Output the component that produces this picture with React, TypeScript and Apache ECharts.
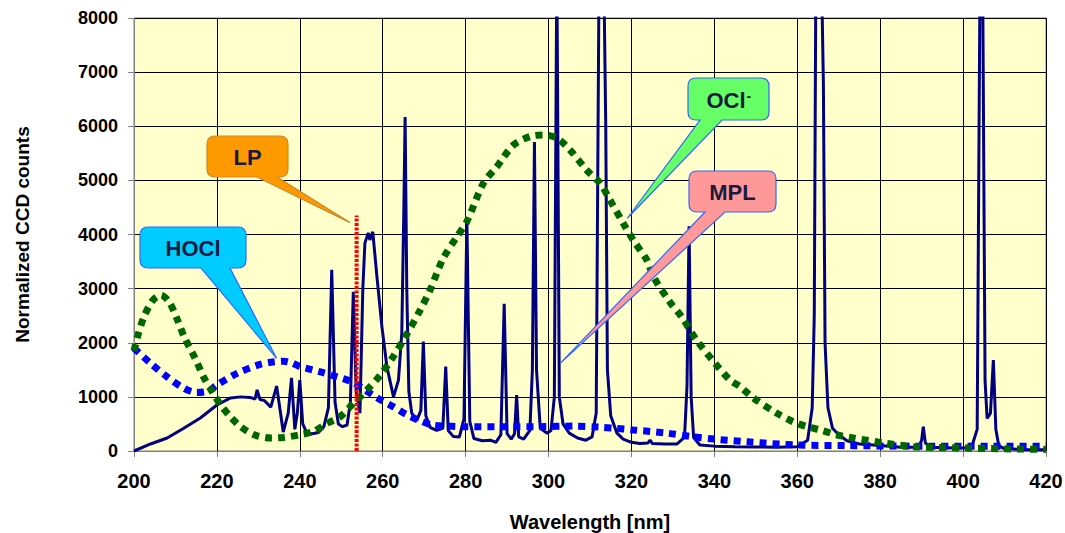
import React, { useEffect, useRef } from "react";
import * as echarts from "echarts";

// ---- Axis settings ----
const xMin = 200;
const xMax = 420;
const xStep = 20;
const yMin = 0;
const yMax = 8000;
const yStep = 1000;

// ---- MPL emission spectrum (wavelength nm, normalized counts) ----
const mplNm = [
  200, 204, 208, 212, 216, 220, 223.3, 225.7, 228, 229.2, 229.7, 230.4, 231.5, 233, 234.4, 235.2,
  236, 237.2, 238, 238.8, 239.4, 240, 240.7, 241.7, 243, 244.5, 245.8, 246.9, 247.7, 248.5, 249.3,
  250.3, 251.4, 252.2, 252.9, 253.6, 254.5, 255.2, 255.7, 256.5, 256.9, 257.6, 258.6, 259.8, 261,
  262.6, 263.8, 264.6, 265.1, 265.4, 265.8, 266.3, 267, 268.2, 269.2, 269.8, 270.4, 271.5, 273,
  274.5, 275.2, 275.8, 277, 278.5, 279.6, 280.3, 281, 282, 284, 286, 287.3, 288.5, 289.3, 290, 291,
  291.8, 292.3, 292.8, 294, 295.5, 296.1, 296.6, 297.1, 298, 299.6, 300.6, 301.4, 302, 302.6,
  303.5, 305, 307, 309, 310.5, 311.5, 312.2, 313.3, 313.8, 314.2, 315, 316.5, 318, 320, 322, 324,
  324.5, 325, 328, 331, 332.8, 333.4, 333.9, 334.4, 335, 336.5, 340, 345, 350, 355, 360, 362.5,
  363.6, 364.1, 364.5, 365.8, 366.3, 366.7, 367.4, 368.5, 370, 372, 375, 380, 385, 389.3, 390,
  390.4, 390.9, 392, 398, 402, 403.4, 404.1, 404.7, 405.3, 405.8, 406.6, 407.3, 407.9, 408.6,
  410, 414, 420,
];
const mplCounts = [
  0, 130, 240, 420, 610, 850, 980, 1000, 990, 960, 1130, 950, 930, 810, 1200, 780,
  350, 700, 1350, 400, 700, 1310, 500, 330, 320, 340, 450, 800, 3350, 900, 500,
  450, 480, 900, 2940, 1100, 700, 3000, 3840, 4030, 3900, 4050, 3220, 2300, 1560,
  1000, 1310, 2180, 4500, 6170, 3000, 1100, 700, 560, 750, 2020, 650, 430, 380,
  420, 1560, 380, 270, 260, 600, 4300, 550, 230, 190, 200, 160, 300, 2720, 320, 220,
  320, 1035, 260, 220, 380, 1500, 5710, 1500, 420, 330, 380, 1000, 9000, 1000,
  500, 330, 240, 200, 260, 700, 9000, 9000, 6000, 1500, 650, 330, 220, 160, 140, 150,
  200, 140, 130, 130, 250, 1200, 4150, 1000, 250, 110, 90, 80, 75, 70, 80, 200,
  800, 2500, 9000, 9000, 6800, 2000, 800, 420, 300, 190, 130, 100, 70, 70, 200,
  450, 150, 70, 55, 60, 400, 9000, 9000, 1300, 600, 700, 1680, 400, 100,
  40, 30, 25,
];

// ---- HOCl absorption (scaled) ----
const hoclNm = [
  200, 204, 208, 212, 215, 218, 220, 225, 230, 233, 236, 238, 240, 243, 245, 249, 252.5, 255.7,
  258.9, 262.5, 265.8, 269, 272, 276, 280, 288, 298, 306, 312.4, 316, 320.4, 328.6, 335, 340, 348,
  360, 372, 388, 420,
];
const hoclCounts = [
  1900, 1620, 1370, 1160, 1080, 1110, 1220, 1440, 1590, 1640, 1660, 1630, 1560, 1500, 1460, 1370,
  1280, 1130, 970, 820, 670, 560, 480, 460, 450, 450, 450, 460, 440, 420, 390, 330, 260, 220, 170,
  110, 100, 90, 90,
];

// ---- OCl- absorption (scaled) ----
const oclNm = [
  200, 201, 202.4, 204.5, 206.5, 208.5, 210.5, 212.1, 214.1, 215.3, 216.9, 218.9, 220.9, 223.3,
  225.7, 229, 233, 236, 240, 243.3, 246.5, 249.7, 252.9, 256.2, 259.4, 262.5, 265.4, 269, 271.4,
  274.6, 277.9, 280.3, 284.3, 287.5, 291.5, 295.5, 298.7, 302, 305.2, 309.2, 312.4, 314.8, 318,
  320.4, 323.7, 325.3, 329.3, 332.1, 335.7, 340.5, 343.8, 346.2, 349.4, 355, 359, 362.3, 365.5,
  369.5, 373.5, 380.8, 388, 400, 410, 420,
];
const oclCounts = [
  1850, 2150, 2480, 2780, 2880, 2750, 2420, 2110, 1810, 1620, 1350, 1090, 850, 630,
  450, 300, 240, 250, 300, 360, 510, 630, 880, 1130, 1400, 1740, 2100, 2600, 2970,
  3560, 3960, 4240, 4950, 5250, 5650, 5810, 5840, 5780, 5560, 5190, 4950, 4640, 4210,
  3900, 3530, 3220, 2750, 2480, 2050, 1590, 1310, 1190, 980, 700, 540, 450, 390,
  300, 240, 150, 80, 55, 40, 30,
];

// ---- LP (low pressure lamp) line ----
const lpNm = [253.7, 253.7];
const lpCounts = [0, 4350];

// ---- Callouts ----
const calloutLabels = ["LP", "HOCl", "OCl", "MPL"];
const calloutTipNm = [252.1, 234.4, 319.0, 302.8];
const calloutTipCounts = [4220, 1713, 4300, 1620];

const FONT = '"Liberation Sans", Arial, Helvetica, sans-serif';

echarts.graphic.registerShape(
  "callout",
  echarts.graphic.extendShape({
    shape: { x: 0, y: 0, w: 10, h: 10, r: 8, b1: 0, b2: 0, tx: 0, ty: 0 },
    buildPath(ctx: any, s: any) {
      const { x, y, w, h, r, b1, b2, tx, ty } = s;
      ctx.moveTo(x + r, y);
      ctx.lineTo(x + w - r, y);
      ctx.quadraticCurveTo(x + w, y, x + w, y + r);
      ctx.lineTo(x + w, y + h - r);
      ctx.quadraticCurveTo(x + w, y + h, x + w - r, y + h);
      ctx.lineTo(b2, y + h);
      ctx.lineTo(tx, ty);
      ctx.lineTo(b1, y + h);
      ctx.lineTo(x + r, y + h);
      ctx.quadraticCurveTo(x, y + h, x, y + h - r);
      ctx.lineTo(x, y + r);
      ctx.quadraticCurveTo(x, y, x + r, y);
      ctx.closePath();
    },
  } as any)
);

const zip = (a: number[], b: number[]) => a.map((v, i) => [v, b[i]]);

export default function App() {
  const ref = useRef<HTMLDivElement>(null);

  useEffect(() => {
    if (!ref.current) return;
    const chart = echarts.init(ref.current, null, { renderer: "svg" });
    chart.setOption({
      animation: false,
      textStyle: { fontFamily: FONT },
      grid: {
        left: 134,
        right: 19,
        top: 18,
        bottom: 82,
        containLabel: false,
        outerBoundsMode: "none",
        show: true,
        backgroundColor: "#FFFFCC",
        borderColor: "#808080",
        borderWidth: 1,
      },
      xAxis: {
        type: "value",
        min: xMin,
        max: xMax,
        interval: xStep,
        name: "Wavelength [nm]",
        nameLocation: "middle",
        nameGap: 61,
        nameTextStyle: { fontSize: 20, fontWeight: "bold", color: "#000", fontFamily: FONT },
        axisLine: { show: true, onZero: false, lineStyle: { color: "#808080", width: 1 } },
        axisTick: { show: true, inside: false, length: 6, lineStyle: { color: "#808080" } },
        axisLabel: {
          fontSize: 20,
          fontWeight: "bold",
          color: "#000",
          margin: 20,
          fontFamily: FONT,
          formatter: (v: number) => String(v),
        },
        splitLine: { show: true, lineStyle: { color: "#000", width: 1 } },
      },
      yAxis: {
        type: "value",
        min: yMin,
        max: yMax,
        interval: yStep,
        name: "Normalized CCD counts",
        nameLocation: "middle",
        nameRotate: 90,
        nameGap: 102,
        nameTextStyle: { fontSize: 19, fontWeight: "bold", color: "#000", fontFamily: FONT },
        axisLine: { show: true, lineStyle: { color: "#808080", width: 1 } },
        axisTick: { show: true, inside: false, length: 6, lineStyle: { color: "#808080" } },
        axisLabel: {
          fontSize: 18,
          fontWeight: "bold",
          color: "#000",
          margin: 16,
          fontFamily: FONT,
          formatter: (v: number) => String(v),
        },
        splitLine: { show: true, lineStyle: { color: "#000", width: 1 } },
      },
      series: [
        {
          name: "MPL",
          type: "line",
          data: zip(mplNm, mplCounts),
          symbol: "none",
          clip: true,
          lineStyle: { color: "#000080", width: 3 },
          z: 2,
        },
        {
          name: "HOCl",
          type: "line",
          data: zip(hoclNm, hoclCounts),
          symbol: "none",
          smooth: 0.3,
          clip: true,
          lineStyle: { color: "#0000FF", width: 7, type: [7, 6], cap: "butt" },
          z: 3,
        },
        {
          name: "OCl-",
          type: "line",
          data: zip(oclNm, oclCounts),
          symbol: "none",
          smooth: 0.3,
          clip: true,
          lineStyle: { color: "#006600", width: 7, type: [7, 6], cap: "butt" },
          z: 4,
        },
        {
          name: "LP",
          type: "line",
          data: zip(lpNm, lpCounts),
          symbol: "none",
          clip: true,
          lineStyle: { color: "#FF0000", width: 4, type: [3, 1.5], cap: "butt" },
          z: 5,
        },
      ],
    });

    const tips = calloutTipNm.map((nm, i) =>
      chart.convertToPixel({ gridIndex: 0 } as any, [nm, calloutTipCounts[i]]) as number[]
    );
    const boxes = [
      { x: 207, y: 136, w: 81, h: 41, b1: 257, b2: 277, fill: "#FF9900", stroke: "#C98A2A" },
      { x: 140, y: 227, w: 106, h: 41, b1: 201, b2: 230, fill: "#00CCFF", stroke: "#3366FF" },
      { x: 688, y: 78, w: 81, h: 42, b1: 700, b2: 722, fill: "#66FF66", stroke: "#3366FF" },
      { x: 689, y: 171, w: 87, h: 41, b1: 705, b2: 725, fill: "#FF9999", stroke: "#3366FF" },
    ];
    const graphics: any[] = [];
    boxes.forEach((b, i) => {
      graphics.push({
        type: "callout",
        z: 100,
        shape: { x: b.x, y: b.y, w: b.w, h: b.h, r: 8, b1: b.b1, b2: b.b2, tx: tips[i][0], ty: tips[i][1] },
        style: { fill: b.fill, stroke: b.stroke, lineWidth: 1.2 },
      });
      const label = calloutLabels[i];
      if (label === "OCl") {
        graphics.push({
          type: "text",
          z: 101,
          x: b.x + b.w / 2 - 22,
          y: b.y + b.h / 2 + 1,
          style: {
            text: "OCl",
            font: `bold 22px ${FONT}`,
            fill: "#1A1A40",
            align: "left",
            verticalAlign: "middle",
            textAlign: "left",
            textVerticalAlign: "middle",
          },
        });
        graphics.push({
          type: "text",
          z: 101,
          x: b.x + b.w / 2 + 18,
          y: b.y + b.h / 2 - 3,
          style: {
            text: "-",
            font: `bold 14px ${FONT}`,
            fill: "#1A1A40",
            align: "left",
            verticalAlign: "middle",
            textAlign: "left",
            textVerticalAlign: "middle",
          },
        });
      } else {
        graphics.push({
          type: "text",
          z: 101,
          x: b.x + b.w / 2,
          y: b.y + b.h / 2 + 1,
          style: {
            text: label,
            font: `bold 22px ${FONT}`,
            fill: "#1A1A40",
            align: "center",
            verticalAlign: "middle",
            textAlign: "center",
            textVerticalAlign: "middle",
          },
        });
      }
    });
    chart.setOption({ graphic: graphics });

    return () => chart.dispose();
  }, []);

  return (
    <div
      ref={ref}
      style={{ position: "fixed", left: 0, top: 0, width: 1065, height: 533, background: "#fff" }}
    />
  );
}
